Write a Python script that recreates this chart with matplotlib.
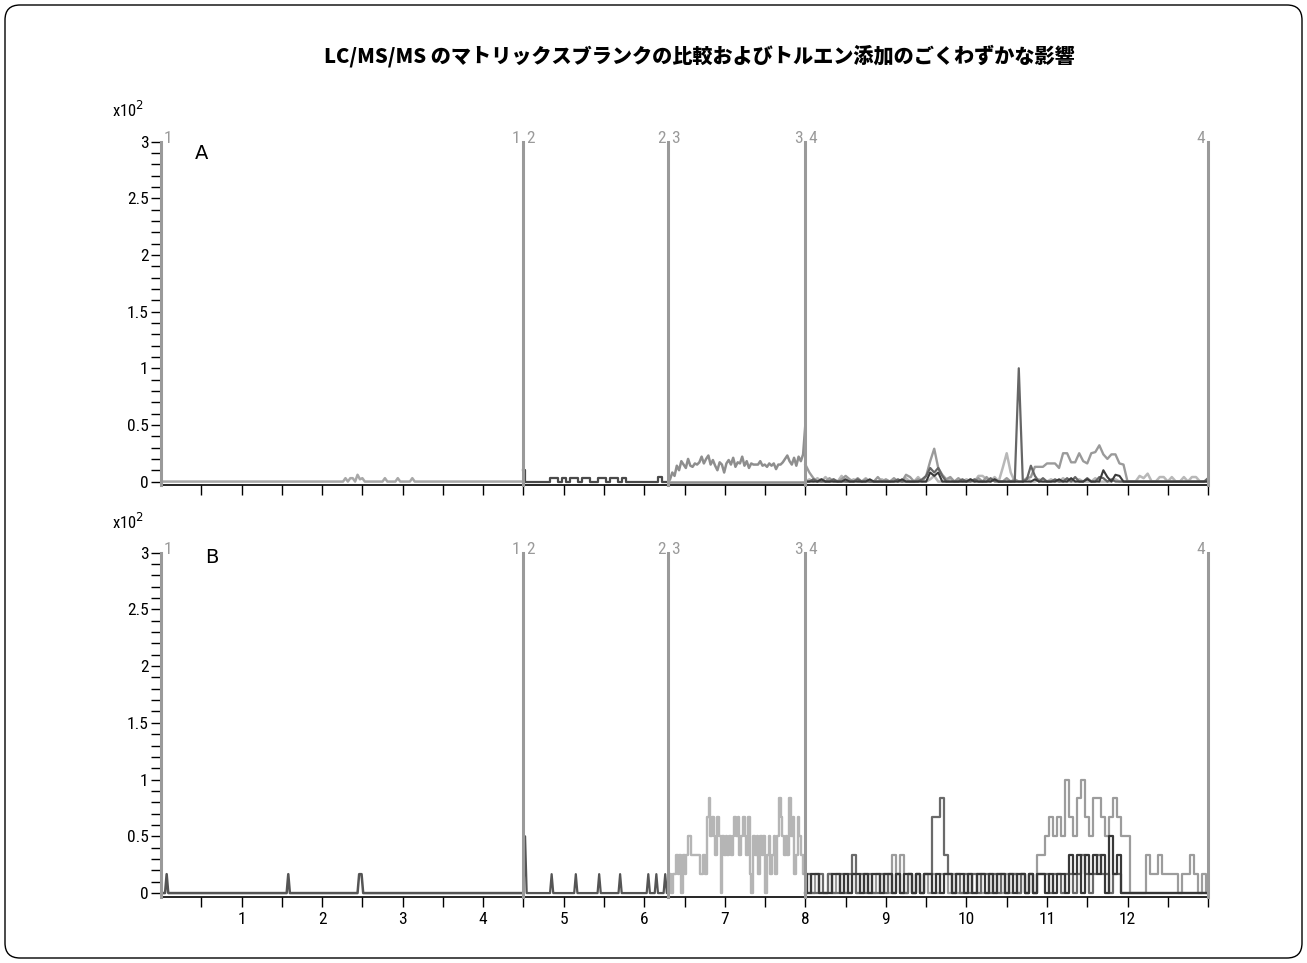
"""LC/MS/MS matrix blank comparison, panels A and B (chromatogram segments 1-4)."""
import numpy as np
import matplotlib
matplotlib.use("Agg")
import matplotlib.pyplot as plt
from matplotlib import font_manager
from matplotlib.patches import FancyBboxPatch

_names = {f.name for f in font_manager.fontManager.ttflist}
TICK_FONT = next((n for n in ["Roboto Condensed", "Liberation Sans Narrow", "DejaVu Sans Condensed"]
                  if n in _names), "DejaVu Sans")
TITLE_FONT = next((n for n in ["Noto Sans CJK JP Black", "Noto Sans CJK JP"] if n in _names), "DejaVu Sans")

TITLE = "LC/MS/MS のマトリックスブランクの比較およびトルエン添加のごくわずかな影響"
SEG_BOUNDS = [0.0, 4.5, 6.3, 8.0, 13.0]
SEG_NAMES = ["1", "2", "3", "4"]
XTICK_LABELS = ["1", "2", "3", "4", "5", "6", "7", "8", "9", "10", "11", "12"]

# ---- panel A (x10^2 counts) ----
A1_T = [0.0, 2.26, 2.29, 2.32, 2.35, 2.38, 2.41, 2.44, 2.47, 2.50, 2.53,
        2.75, 2.78, 2.81, 2.91, 2.94, 2.97, 3.09, 3.12, 3.15, 4.5]
A1_Y = [0, 0, 0.03, 0.0, 0.03, 0.03, 0.0, 0.06, 0.02, 0.03, 0,
        0, 0.03, 0, 0, 0.03, 0, 0, 0.03, 0, 0]

# segment 2, sampled every 0.05 min from 4.5 to 6.3
A2_Y = [0.10, 0, 0, 0, 0, 0, 0, 0.035, 0.035, 0, 0.035, 0, 0.035, 0.035, 0,
        0.035, 0.035, 0, 0, 0.035, 0.035, 0, 0.035, 0.035, 0, 0.035, 0,
        0, 0, 0, 0, 0, 0, 0, 0.04, 0, 0]

# segment 3, 6.32 to 8.0
A3_Y = [0.02, 0.08, 0.05, 0.14, 0.10, 0.18, 0.15, 0.12, 0.20, 0.14, 0.13, 0.16,
        0.15, 0.17, 0.22, 0.16, 0.20, 0.23, 0.15, 0.19, 0.14, 0.10, 0.17, 0.15,
        0.08, 0.16, 0.19, 0.15, 0.21, 0.13, 0.17, 0.16, 0.22, 0.14, 0.18, 0.12,
        0.16, 0.15, 0.15, 0.15, 0.18, 0.14, 0.15, 0.13, 0.16, 0.14, 0.16, 0.11,
        0.15, 0.15, 0.17, 0.20, 0.23, 0.18, 0.15, 0.21, 0.14, 0.22, 0.18, 0.24, 0.50]
A3_BASE = [0.0, 0.0]

# segment 4, sampled every 0.05 min from 8.0 to 13.0 (101 points each)
A4_MID = [0.15, 0.08, 0.03, 0.0, 0.02, 0.0, 0.03, 0.0, 0.0, 0.02, 0.05, 0.02, 0.0, 0.03, 0.0, 0.02, 0.0, 0.0, 0.04, 0.0,
          0.02, 0.0, 0.03, 0.0, 0.0, 0.06, 0.04, 0.0, 0.02, 0.0, 0.05, 0.18, 0.29, 0.12, 0.06, 0.02, 0.04, 0.0, 0.03, 0.0,
          0.0, 0.02, 0.0, 0.03, 0.0, 0.04, 0.0, 0.02, 0.0, 0.0, 0.03, 0.0, 0.02, 0.0, 0.0, 0.03, 0.04, 0.13, 0.13, 0.13,
          0.16, 0.16, 0.16, 0.12, 0.25, 0.25, 0.17, 0.17, 0.25, 0.18, 0.16, 0.25, 0.26, 0.32, 0.24, 0.20, 0.24, 0.24, 0.16, 0.15,
          0.0, 0.0, 0.0, 0.0, 0.0, 0.0, 0.0, 0.0, 0.0, 0.0, 0.0, 0.0, 0.0, 0.0, 0.0, 0.0, 0.0, 0.0, 0.0, 0.0, 0.0]
A4_LIGHT = [0.0, 0.02, 0.0, 0.03, 0.0, 0.04, 0.0, 0.02, 0.0, 0.05, 0.0, 0.0, 0.02, 0.0, 0.0, 0.03, 0.0, 0.0, 0.0, 0.02,
            0.0, 0.0, 0.02, 0.0, 0.0, 0.03, 0.0, 0.0, 0.04, 0.0, 0.0, 0.02, 0.05, 0.0, 0.0, 0.0, 0.03, 0.0, 0.0, 0.0,
            0.02, 0.0, 0.0, 0.05, 0.05, 0.02, 0.0, 0.04, 0.0, 0.12, 0.25, 0.08, 0.0, 0.0, 0.0, 0.03, 0.0, 0.0, 0.02, 0.0,
            0.0, 0.02, 0.0, 0.0, 0.03, 0.0, 0.0, 0.0, 0.02, 0.0, 0.0, 0.0, 0.03, 0.0, 0.0, 0.0, 0.0, 0.02, 0.0, 0.0,
            0.0, 0.0, 0.0, 0.05, 0.03, 0.07, 0.0, 0.0, 0.04, 0.04, 0.0, 0.04, 0.0, 0.0, 0.04, 0.0, 0.04, 0.04, 0.0, 0.0, 0.0]
A4_DARK = [0.0, 0.0, 0.02, 0.0, 0.0, 0.0, 0.0, 0.02, 0.0, 0.0, 0.0, 0.0, 0.0, 0.02, 0.0, 0.0, 0.0, 0.0, 0.0, 0.0,
           0.0, 0.0, 0.0, 0.02, 0.0, 0.0, 0.0, 0.0, 0.0, 0.02, 0.05, 0.12, 0.08, 0.12, 0.05, 0.0, 0.0, 0.0, 0.0, 0.02,
           0.0, 0.0, 0.02, 0.0, 0.0, 0.0, 0.03, 0.0, 0.0, 0.0, 0.0, 0.0, 0.0, 1.0, 0.0, 0.02, 0.14, 0.05, 0.0, 0.03,
           0.0, 0.0, 0.02, 0.0, 0.0, 0.03, 0.0, 0.04, 0.0, 0.0, 0.03, 0.0, 0.0, 0.04, 0.03, 0.0, 0.02, 0.0, 0.0, 0.0,
           0.0, 0.0, 0.0, 0.0, 0.0, 0.0, 0.0, 0.0, 0.0, 0.0, 0.0, 0.0, 0.0, 0.0, 0.0, 0.0, 0.0, 0.0, 0.0, 0.0, 0.03]
A4_BLACK = [0.0, 0.0, 0.0, 0.0, 0.02, 0.0, 0.0, 0.0, 0.0, 0.0, 0.02, 0.0, 0.0, 0.0, 0.0, 0.0, 0.02, 0.0, 0.0, 0.0,
            0.0, 0.0, 0.0, 0.0, 0.02, 0.0, 0.0, 0.0, 0.0, 0.0, 0.0, 0.08, 0.05, 0.08, 0.0, 0.0, 0.0, 0.0, 0.0, 0.0,
            0.0, 0.02, 0.0, 0.0, 0.0, 0.0, 0.0, 0.02, 0.0, 0.0, 0.0, 0.0, 0.0, 0.0, 0.0, 0.0, 0.0, 0.02, 0.0, 0.0,
            0.0, 0.0, 0.0, 0.02, 0.0, 0.0, 0.03, 0.0, 0.0, 0.0, 0.02, 0.0, 0.0, 0.0, 0.10, 0.04, 0.0, 0.06, 0.05, 0.0,
            0.0, 0.0, 0.0, 0.0, 0.0, 0.0, 0.0, 0.0, 0.0, 0.0, 0.0, 0.0, 0.0, 0.0, 0.0, 0.0, 0.0, 0.0, 0.0, 0.0, 0.0]

# ---- panel B (intensity steps of 1/6 x10^2) ----
B_STEP = 1 / 6
B1_T = [0.0, 0.05, 0.07, 0.09, 1.56, 1.58, 1.60, 2.44, 2.46, 2.49, 2.51, 4.5]
B1_Y = [0, 0, 1, 0, 0, 1, 0, 0, 1, 1, 0, 0]
B2_T = [4.5, 4.52, 4.54, 4.83, 4.85, 4.87, 5.13, 5.15, 5.17, 5.42, 5.44, 5.46, 5.68,
        5.70, 5.72, 6.03, 6.05, 6.07, 6.13, 6.15, 6.17, 6.24, 6.26, 6.28, 6.3]
B2_Y = [0, 3, 0, 0, 1, 0, 0, 1, 0, 0, 1, 0, 0, 1, 0, 0, 1, 0, 0, 1, 0, 0, 1, 0, 0]
# segment 3, 6.32 to 8.0
B3_LIGHT = [1, 0, 1, 1, 2, 1, 2, 0, 2, 1, 2, 3, 3, 2, 2, 2, 2, 2, 1, 1, 2, 1, 4, 5, 3, 4, 3, 2, 4, 3,
            0, 3, 2, 3, 2, 3, 2, 3, 4, 3, 4, 2, 3, 4, 3, 2, 4, 1, 0, 3, 2, 3, 1, 3, 2, 3, 0, 2, 3, 1,
            2, 3, 1, 3, 5, 4, 3, 2, 3, 2, 5, 3, 4, 1, 2, 4, 3, 2, 1, 2]
# segment 4, every 0.05 min from 8.0 to 13.0
B4_BLACK = [1, 0, 1, 1, 0, 0, 0, 1, 1, 0, 1, 0, 1, 1, 0, 1, 0, 1, 1, 0,
            1, 1, 0, 1, 0, 1, 1, 0, 1, 0, 1, 1, 0, 1, 0, 1, 1, 0, 1, 1,
            0, 1, 0, 1, 1, 0, 1, 0, 1, 1, 0, 1, 0, 1, 1, 0, 1, 0, 1, 1,
            0, 1, 0, 1, 1, 0, 2, 1, 2, 0, 2, 1, 2, 1, 2, 0, 3, 1, 2, 0,
            0, 0, 0, 0, 0, 0, 0, 0, 0, 0, 0, 0, 0, 0, 0, 0, 0, 0, 0, 0, 0]
B4_DARK = [0, 1, 0, 0, 1, 0, 1, 0, 0, 1, 0, 1, 2, 0, 1, 0, 1, 0, 0, 1,
           0, 1, 0, 1, 0, 0, 1, 0, 1, 0, 1, 1, 4, 4, 5, 2, 1, 0, 1, 0,
           1, 0, 1, 0, 1, 1, 0, 1, 0, 1, 0, 1, 1, 0, 1, 0, 1, 0, 1, 1,
           1, 0, 1, 1, 0, 1, 1, 0, 1, 2, 1, 0, 1, 2, 1, 1, 0, 1, 1, 0,
           0, 0, 0, 0, 0, 0, 0, 0, 0, 0, 0, 0, 0, 0, 0, 0, 0, 0, 0, 0, 0]
B4_MID = [0, 0, 0, 1, 0, 0, 1, 0, 1, 0, 0, 0, 1, 0, 0, 1, 0, 0, 1, 0,
          1, 0, 2, 1, 2, 0, 1, 0, 1, 0, 1, 0, 1, 0, 1, 1, 0, 1, 0, 0,
          0, 1, 0, 1, 0, 0, 1, 0, 1, 0, 1, 0, 1, 0, 1, 0, 1, 0, 2, 2,
          3, 4, 3, 4, 3, 6, 4, 3, 5, 6, 4, 3, 5, 5, 4, 3, 4, 5, 4, 3,
          3, 0, 0, 0, 0, 2, 1, 1, 2, 1, 1, 1, 1, 0, 1, 1, 2, 1, 0, 1, 0]

GRAY_SEG = "#9a9a9a"


def sampled(t0, t1, vals, scale=1.0):
    return np.linspace(t0, t1, len(vals)), np.asarray(vals, float) * scale


fig = plt.figure(figsize=(13.07, 9.63), dpi=100)
fig.patches.append(FancyBboxPatch((0.05, 0.05), 12.97, 9.53,
                                  boxstyle="round,pad=0,rounding_size=0.15",
                                  transform=fig.dpi_scale_trans, fill=False,
                                  ec="black", lw=1.0))
fig.text(0.535, 0.942, TITLE, ha="center", va="center", fontsize=14.5,
         fontweight=900, family=[TITLE_FONT, "DejaVu Sans"])

ax_a = fig.add_axes([0.1232, 0.4964, 0.8011, 0.3565])
ax_b = fig.add_axes([0.1232, 0.0685, 0.8011, 0.3577])

# panel A traces
ax_a.plot(A1_T, A1_Y, color="#a8a8a8", lw=1.8)
ax_a.plot(*sampled(4.5, 6.3, A2_Y), color="#4a4a4a", lw=1.6, drawstyle="steps-mid")
ax_a.plot(*sampled(6.3, 8.0, A3_BASE), color="#8e8e8e", lw=1.8)
ax_a.plot(*sampled(6.32, 8.0, A3_Y), color="#8e8e8e", lw=1.8)
ax_a.plot(*sampled(8.0, 13.0, A4_LIGHT), color="#b8b8b8", lw=1.8)
ax_a.plot(*sampled(8.0, 13.0, A4_MID), color="#9a9a9a", lw=1.7)
ax_a.plot(*sampled(8.0, 13.0, A4_DARK), color="#666666", lw=1.6)
ax_a.plot(*sampled(8.0, 13.0, A4_BLACK), color="#3a3a3a", lw=1.5)

# panel B traces
ax_b.plot(B1_T, np.array(B1_Y) * B_STEP, color="#555555", lw=1.8)
ax_b.plot(B2_T, np.array(B2_Y) * B_STEP, color="#555555", lw=1.6)
ax_b.plot(*sampled(6.32, 8.0, B3_LIGHT, B_STEP), color="#b5b5b5", lw=1.7, drawstyle="steps-mid")
ax_b.plot(*sampled(8.0, 13.0, B4_MID, B_STEP), color="#9c9c9c", lw=1.6, drawstyle="steps-mid")
ax_b.plot(*sampled(8.0, 13.0, B4_DARK, B_STEP), color="#6a6a6a", lw=1.6, drawstyle="steps-mid")
ax_b.plot(*sampled(8.0, 13.0, B4_BLACK, B_STEP), color="#383838", lw=1.6, drawstyle="steps-mid")

major_x = np.arange(0.5, 13.01, 0.5)
for ax, ybot, letter, lpos, mpos in [(ax_a, -0.03, "A", (0.1543, 0.841), 0.886),
                                     (ax_b, -0.035, "B", (0.162, 0.4206), 0.458)]:
    ax.set_xlim(0, 13)
    ax.set_ylim(ybot, 3.0)
    for s in ["top", "right"]:
        ax.spines[s].set_visible(False)
    ax.spines["left"].set_linewidth(1.2)
    ax.spines["bottom"].set_linewidth(1.2)
    ax.set_yticks(np.arange(0, 3.01, 0.5))
    ax.set_yticklabels(["0", "0.5", "1", "1.5", "2", "2.5", "3"])
    ax.set_yticks(np.arange(0, 3.01, 0.1), minor=True)
    ax.set_xticks(major_x)
    ax.tick_params(axis="both", which="both", length=7, width=1.0, color="black")
    ax.tick_params(axis="y", pad=2, labelsize=12.5)
    ax.tick_params(axis="x", pad=4, labelsize=12.5)
    for lab in ax.get_yticklabels() + ax.get_xticklabels():
        lab.set_family(TICK_FONT)
        lab.set_fontstretch("condensed")
    # segment boundaries
    for b in SEG_BOUNDS:
        ax.axvline(b, ymin=0, ymax=1, color=GRAY_SEG, lw=2.2, zorder=5, clip_on=False)
    for i, b in enumerate(SEG_BOUNDS):
        if i > 0:
            ax.annotate(SEG_NAMES[i - 1], (b, 3.0), xytext=(-2, 2), textcoords="offset points",
                        ha="right", va="center", color=GRAY_SEG, fontsize=12.5,
                        family=TICK_FONT, fontstretch="condensed", annotation_clip=False)
        if i < len(SEG_NAMES):
            ax.annotate(SEG_NAMES[i], (b, 3.0), xytext=(2, 2), textcoords="offset points",
                        ha="left", va="center", color=GRAY_SEG, fontsize=12.5,
                        family=TICK_FONT, fontstretch="condensed", annotation_clip=False)
    fig.text(lpos[0], lpos[1], letter, ha="center", va="center", fontsize=14)
    fig.text(0.0857, mpos, r"x10$^2$", ha="left", va="center", fontsize=12,
             family=TICK_FONT, fontstretch="condensed")

ax_a.set_xticklabels([""] * len(major_x))
ax_b.set_xticklabels([str(int(v)) if v == int(v) and str(int(v)) in XTICK_LABELS else ""
                      for v in major_x])

fig.savefig("out.png", dpi=100)
